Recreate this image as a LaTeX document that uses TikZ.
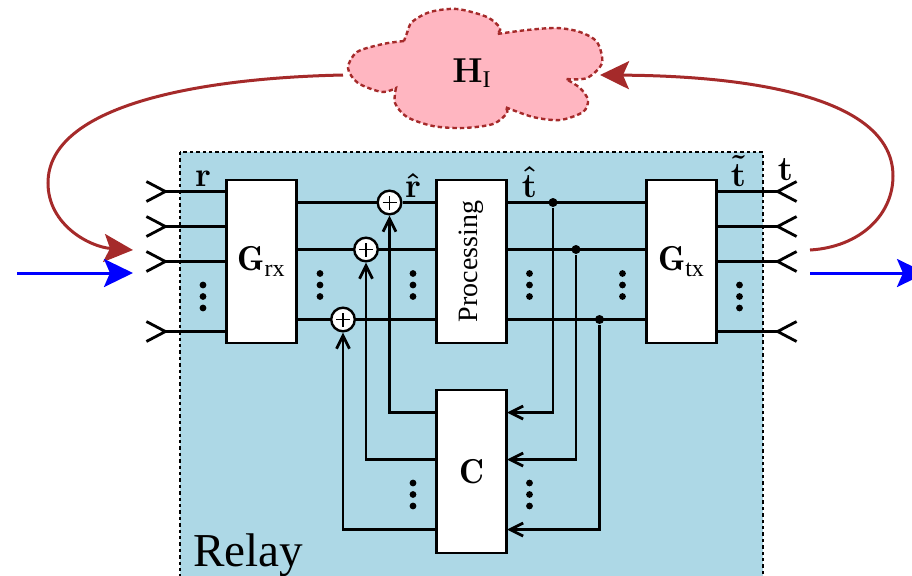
\documentclass[tikz,border=0pt]{standalone}
\usepackage{amsmath}
\usepackage{fontspec}
\usepackage{graphicx}
\newfontfamily\timesfont{Liberation Serif}
\usetikzlibrary{arrows.meta,positioning}

\definecolor{relayblue}{RGB}{173,216,230}
\definecolor{cloudpink}{RGB}{255,182,193}
\definecolor{loopbrown}{RGB}{165,42,42}

\begin{document}
\begin{tikzpicture}[x=0.5pt,y=-0.5pt,line width=1.4pt,node distance=105pt,
  >={Straight Barb[length=6.5pt,width=6.5pt]},
  main node/.style={rectangle,fill=white,draw,minimum width=35pt,minimum height=81.5pt,inner sep=0pt,font=\LARGE},
  sum node/.style={circle,fill=white,draw,line width=1.2pt,minimum size=11.8pt,inner sep=0pt,
    path picture={\draw[line width=0.9pt] (path picture bounding box.center) ++(-3.5pt,0) -- ++(7pt,0)
      (path picture bounding box.center) ++(0,-3.5pt) -- ++(0,7pt);}},
  tap node/.style={circle,fill=black,minimum size=4.5pt,inner sep=0pt},
  sig node/.style={inner sep=0pt,font=\LARGE\boldmath},
  lab node/.style={sig node,anchor=base},
  port in/.style={{Straight Barb[reversed,length=9.5pt,width=10pt]}-},
  port out/.style={-{Straight Barb[reversed,length=9.5pt,width=10pt]}},
  big tip/.style={line width=1.5pt,-{Stealth[length=14.5pt,width=14pt,inset=3pt]}}]

  \clip (0,0) rectangle (912,575);

  % relay area
  \draw[fill=relayblue,line width=1.2pt,dash pattern=on 1.7pt off 1.5pt] (180,152) rectangle (763,590);
  \node[anchor=base west,inner sep=0pt,font=\timesfont\fontsize{23.6}{28}\selectfont] (relay) at (192,566) {Relay};

  % cloud
  \draw[fill=cloudpink,draw=loopbrown,line width=1.2pt,dash pattern=on 2.2pt off 1.5pt]
    plot[smooth] coordinates {(404,41) (383,44) (357,52) (348,68) (358,83) (382,92) (396,88)}
    -- plot[smooth] coordinates {(396,88) (395,103) (407,117) (433,126) (463,128) (493,124) (507,113) (505,107)}
    -- plot[smooth] coordinates {(505,107) (533,117) (560,120) (583,112) (588,100) (580,88) (566,79)}
    -- plot[smooth] coordinates {(566,79) (587,78) (602,63) (597,42) (580,32) (557,28) (527,30) (497,34)}
    -- plot[smooth] coordinates {(497,34) (500,28) (487,17) (457,9) (430,12) (412,22) (407,33) (404,41)}
    -- cycle;
  \node[sig node] (HI) at (472,73) {$\mathbf{H}_{\text{\timesfont\mdseries I}}$};

  % blocks
  \node[main node] (Grx) at (261.5,261.5) {$\mathbf{G}_{\text{\timesfont rx}}$};
  \node[main node] (Proc) [right of=Grx] {\timesfont\fontsize{14}{16}\selectfont\rotatebox{90}{Processing}};
  \node[main node] (Gtx) [right of=Proc] {$\mathbf{G}_{\text{\timesfont tx}}$};
  \node[main node] (C) [below of=Proc] {$\mathbf{C}$};

  % antenna ports
  \foreach \i/\y in {1/191.5,2/226.5,3/261.5,4/331.5}{
    \coordinate (rx\i) at (145,\y);
    \coordinate (tx\i) at (798,\y);
    \draw[port in] (rx\i) -- (rx\i -| Grx.west);
    \draw[port out] (tx\i -| Gtx.east) -- (tx\i);
  }

  % adders and taps
  \foreach \i/\x/\y in {1/389.5/202.5,2/366/249.5,3/343/319.5}{
    \node[sum node] (add\i) at (\x,\y) {};
    \draw (add\i -| Grx.east) -- (add\i);
    \draw (add\i) -- (add\i -| Proc.west);
  }
  \foreach \i/\x/\y in {1/553/202.5,2/576/249.5,3/599.5/319.5}{
    \node[tap node] (tap\i) at (\x,\y) {};
    \draw (tap\i -| Proc.east) -- (tap\i -| Gtx.west);
  }

  % cancellation feedback
  \foreach \i/\y in {1/412.5,2/459.5,3/529.5}{
    \coordinate (cin\i) at (507,\y);
    \draw[->] (tap\i) |- (cin\i);
    \draw[->] (cin\i -| C.west) -| (add\i);
  }

  % dots
  \foreach \x/\y in {203/296.5,320/285,413/285,529.5/285,622.5/285,739.5/296.5,413/494.5,529.5/494.5}{
    \foreach \d in {-11.5,0,11.5}
      \fill (\x,\y+\d) circle (3.4);
  }

  % labels
  \node[lab node] (rlab) at (203,186) {$\mathbf{r}$};
  \node[lab node] (rhat) at (413,197.5) {$\hat{\mathbf{r}}$};
  \node[lab node] (that) at (529.5,197.5) {$\hat{\mathbf{t}}$};
  \node[lab node] (ttil) at (738.5,186.5) {$\tilde{\mathbf{t}}$};
  \node[lab node] (tlab) at (785.5,180.5) {$\mathbf{t}$};

  % self interference loop
  \coordinate (loopa) at (343,75);
  \coordinate (loopb) at (133,250);
  \coordinate (loopc) at (810,250);
  \coordinate (loopd) at (600,75);
  \draw[big tip,loopbrown] (loopa) .. controls (200,78) and (48,105) .. (48,183)
    .. controls (48,225) and (90,247) .. (loopb);
  \draw[big tip,loopbrown] (loopc) .. controls (860,247) and (893,215) .. (893,176)
    .. controls (893,100) and (760,76) .. (loopd);

  % direct path
  \coordinate (sigin) at (17,273);
  \coordinate (siginend) at (133,273);
  \coordinate (sigout) at (810,273);
  \coordinate (sigoutend) at (926,273);
  \draw[big tip,blue] (sigin) -- (siginend);
  \draw[big tip,blue] (sigout) -- (sigoutend);

\end{tikzpicture}
\end{document}
